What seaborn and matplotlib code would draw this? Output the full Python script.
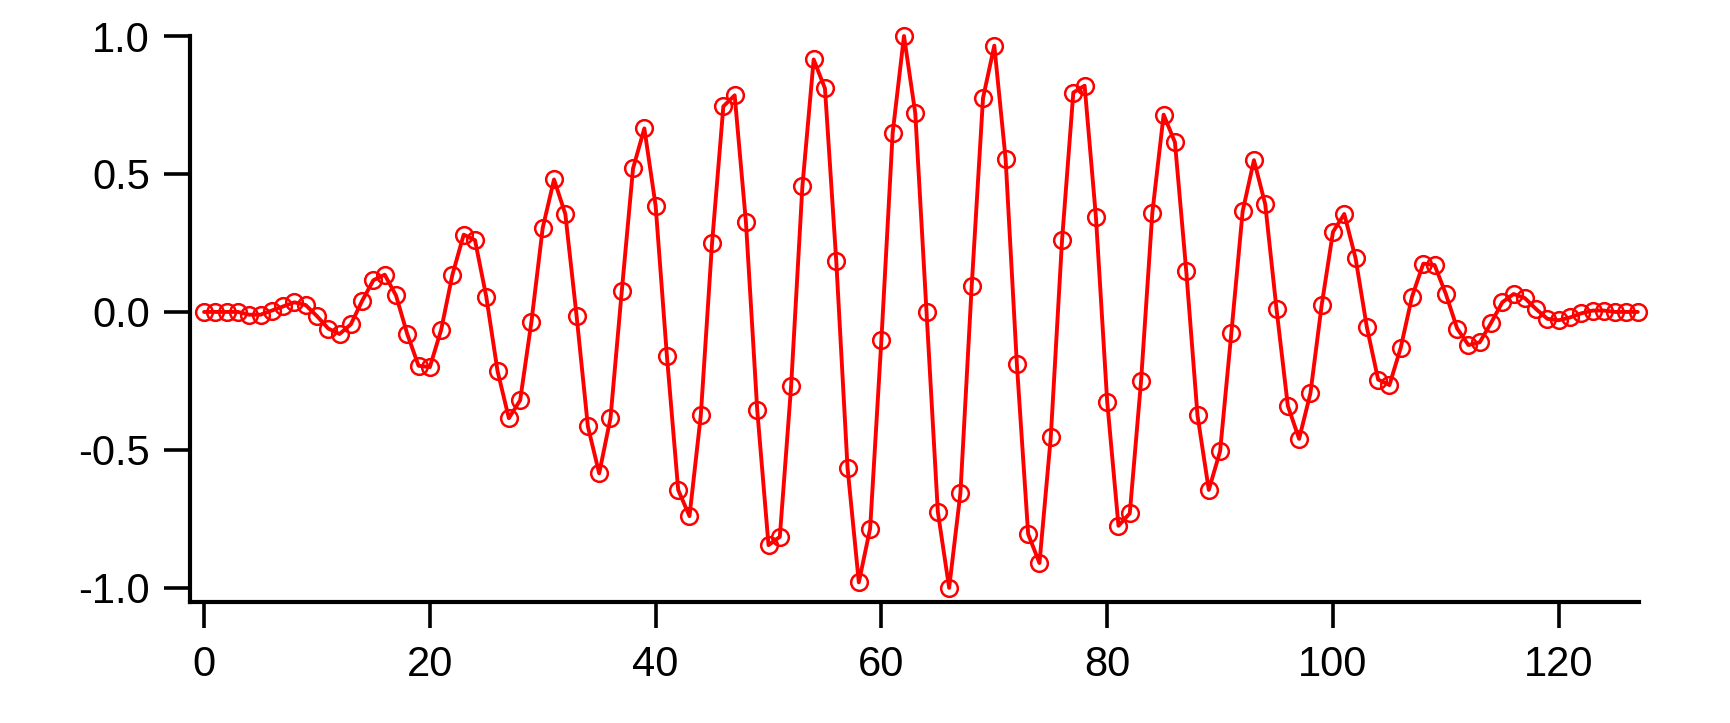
import numpy as np
import pandas as pd
import matplotlib
matplotlib.use("Agg")
import matplotlib.pyplot as plt
import seaborn as sns

# sample index and signal values
sample = list(range(128))
signal = [
    0.0, 0.0, 0.0, 0.0, -0.01, -0.01, 0.005, 0.02, 0.035, 0.025,
    -0.015, -0.06, -0.08, -0.045, 0.04, 0.115, 0.135, 0.06, -0.08, -0.195,
    -0.2, -0.065, 0.135, 0.28, 0.26, 0.055, -0.215, -0.385, -0.32, -0.035,
    0.305, 0.48, 0.355, -0.015, -0.415, -0.585, -0.385, 0.075, 0.52, 0.665,
    0.385, -0.16, -0.645, -0.74, -0.375, 0.25, 0.745, 0.785, 0.325, -0.355,
    -0.845, -0.815, -0.27, 0.455, 0.915, 0.81, 0.185, -0.565, -0.98, -0.785,
    -0.1, 0.65, 1.0, 0.72, 0.0, -0.725, -1.0, -0.655, 0.095, 0.775,
    0.965, 0.555, -0.19, -0.805, -0.91, -0.455, 0.26, 0.795, 0.82, 0.345,
    -0.325, -0.775, -0.73, -0.25, 0.36, 0.715, 0.615, 0.15, -0.375, -0.645,
    -0.505, -0.075, 0.365, 0.55, 0.39, 0.01, -0.34, -0.46, -0.295, 0.025,
    0.29, 0.355, 0.195, -0.055, -0.245, -0.265, -0.13, 0.055, 0.175, 0.17,
    0.065, -0.06, -0.12, -0.11, -0.04, 0.035, 0.065, 0.05, 0.01, -0.025,
    -0.03, -0.02, -0.005, 0.005, 0.005, 0.0, 0.0, 0.0,
]
x_ticks = [0, 20, 40, 60, 80, 100, 120]
y_ticks = [-1.0, -0.5, 0.0, 0.5, 1.0]

df = pd.DataFrame({"sample": sample, "signal": signal})

sns.set_style("ticks")
plt.rcParams["font.family"] = ["Liberation Sans", "DejaVu Sans"]

fig = plt.figure(figsize=(17.31, 7.23), dpi=100)
ax = fig.add_axes([0.1098, 0.1678, 0.8370, 0.7824])

sns.lineplot(data=df, x="sample", y="signal", ax=ax, color="red",
             linewidth=2.8, marker="o", markersize=12,
             markerfacecolor="none", markeredgecolor="red",
             markeredgewidth=1.8, clip_on=False)

ax.set_xlim(-1.24, 127.1)
ax.set_ylim(-1.05, 1.0)
ax.set_xticks(x_ticks)
ax.set_yticks(y_ticks)
ax.set_yticklabels([f"{v:.1f}" for v in y_ticks])
ax.set_xlabel("")
ax.set_ylabel("")

for side in ["top", "right"]:
    ax.spines[side].set_visible(False)
for side in ["left", "bottom"]:
    ax.spines[side].set_linewidth(3.0)
    ax.spines[side].set_color("black")

ax.tick_params(axis="both", direction="out", length=19, width=2.6,
               labelsize=30, colors="black", pad=10)
ax.tick_params(axis="x", pad=12)

fig.savefig("out.png", dpi=100)
